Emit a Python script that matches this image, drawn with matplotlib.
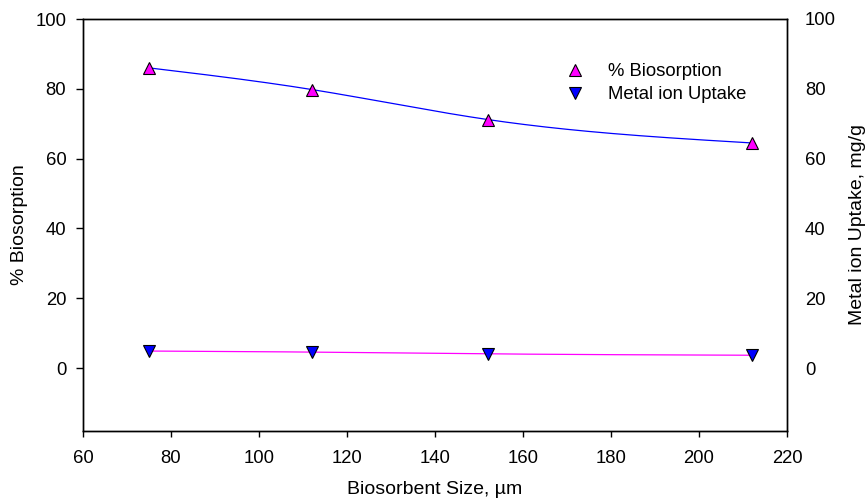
import numpy as np
import matplotlib
matplotlib.use("Agg")
import matplotlib.pyplot as plt
from matplotlib.lines import Line2D

plt.rcParams['font.family'] = ['Liberation Sans', 'DejaVu Sans']

size_um = [75, 112, 152, 212]
biosorption_pct = [86.0, 79.8, 71.2, 64.5]
metal_uptake = [4.9, 4.6, 4.1, 3.7]

x_ticks = [60, 80, 100, 120, 140, 160, 180, 200, 220]
y_ticks = [0, 20, 40, 60, 80, 100]


def natural_spline(x, y, n=200):
    x = np.asarray(x, float); y = np.asarray(y, float)
    k = len(x); h = np.diff(x)
    A = np.zeros((k, k)); b = np.zeros(k)
    A[0, 0] = A[-1, -1] = 1
    for i in range(1, k - 1):
        A[i, i - 1] = h[i - 1]; A[i, i] = 2 * (h[i - 1] + h[i]); A[i, i + 1] = h[i]
        b[i] = 6 * ((y[i + 1] - y[i]) / h[i] - (y[i] - y[i - 1]) / h[i - 1])
    M = np.linalg.solve(A, b)
    xs = np.linspace(x[0], x[-1], n)
    idx = np.clip(np.searchsorted(x, xs) - 1, 0, k - 2)
    x0, x1 = x[idx], x[idx + 1]; hh = x1 - x0
    ys = (M[idx] * (x1 - xs) ** 3 / (6 * hh) + M[idx + 1] * (xs - x0) ** 3 / (6 * hh)
          + (y[idx] / hh - M[idx] * hh / 6) * (x1 - xs)
          + (y[idx + 1] / hh - M[idx + 1] * hh / 6) * (xs - x0))
    return xs, ys


fig = plt.figure(figsize=(8.68, 5.0), dpi=100)
ax = fig.add_axes([0.0956, 0.138, 0.8111, 0.824])
ax.set_xlim(60, 220)
ax.set_ylim(-18, 100)

fs = 13.3
fl = 14
xs, ys = natural_spline(size_um, biosorption_pct)
ax.plot(xs, ys, color='#0000ff', lw=0.9, zorder=2)
ax.plot(size_um, biosorption_pct, ls='none', marker='^', ms=8.5,
        mfc='#ff00ff', mec='black', mew=0.8, zorder=3)

ax2 = ax.twinx()
ax2.set_ylim(-18, 100)
xs2, ys2 = natural_spline(size_um, metal_uptake)
ax2.plot(xs2, ys2, color='#ff00ff', lw=0.9, zorder=2)
ax2.plot(size_um, metal_uptake, ls='none', marker='v', ms=8.5,
         mfc='#0000ff', mec='black', mew=0.8, zorder=3)

ax.set_xticks(x_ticks)
ax.set_yticks(y_ticks)
ax2.set_yticks(y_ticks)
ax.tick_params(axis='x', direction='out', length=4.5, width=1, pad=9, labelsize=fs, top=False)
ax.tick_params(axis='y', direction='out', length=5, width=1, pad=7, labelsize=fs, right=False)
ax2.tick_params(axis='y', length=0, pad=13, labelsize=fs)
for a in (ax, ax2):
    for s in a.spines.values():
        s.set_linewidth(1.0)

ax.set_xlabel('Biosorbent Size, µm', fontsize=fl, labelpad=10)
ax.set_ylabel('% Biosorption', fontsize=fl, labelpad=5)
ax2.set_ylabel('Metal ion Uptake, mg/g', fontsize=fl, labelpad=9)

handles = [
    Line2D([], [], ls='none', marker='^', ms=8.5, mfc='#ff00ff', mec='black', mew=0.8),
    Line2D([], [], ls='none', marker='v', ms=8.5, mfc='#0000ff', mec='black', mew=0.8),
]
ax.legend(handles, ['% Biosorption', 'Metal ion Uptake'], loc='upper left',
          bbox_to_anchor=(0.675, 0.91), frameon=False, fontsize=fs,
          handlelength=1.0, handletextpad=1.3, labelspacing=0.3, borderaxespad=0)

fig.savefig('out.png', dpi=100)
